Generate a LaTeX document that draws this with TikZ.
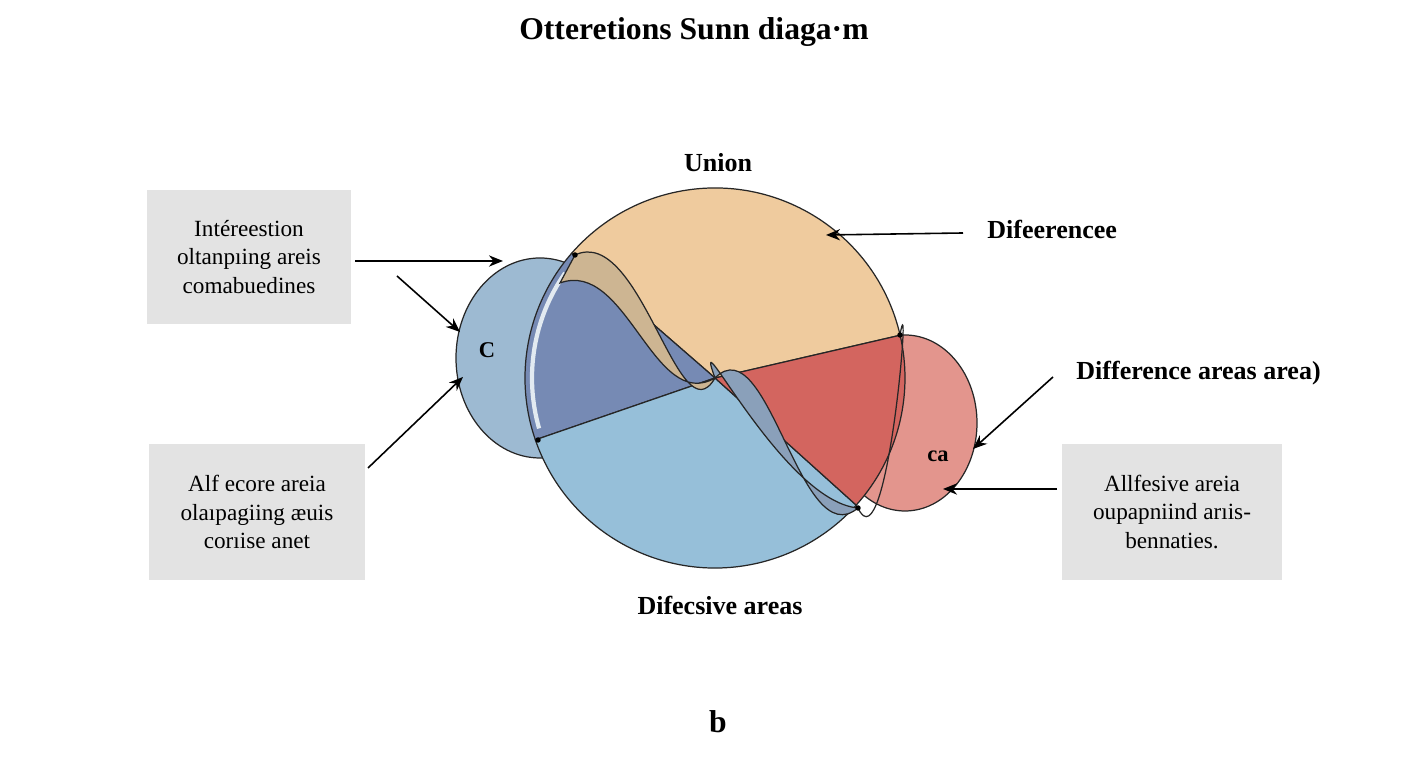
\documentclass[tikz,border=0pt]{standalone}
\usepackage{fontspec}
\setmainfont{Liberation Serif}
\usetikzlibrary{arrows.meta}
\definecolor{lblue}{HTML}{9DBAD2}
\definecolor{dblue}{HTML}{768AB4}
\definecolor{sky}{HTML}{96BFD9}
\definecolor{peach}{HTML}{EFCB9E}
\definecolor{tan}{HTML}{CDB592}
\definecolor{brick}{HTML}{D3655F}
\definecolor{rose}{HTML}{E3958D}
\definecolor{lens}{HTML}{8AA0BA}
\definecolor{boxgray}{HTML}{E3E3E3}
\tikzset{
  edge/.style={draw=black!85, line width=0.35pt},
  pin/.style={-{Stealth[length=4pt,width=3.2pt]}, line width=0.45pt},
  head/.style={font=\fontsize{7.4}{8.5}\selectfont\bfseries},
  boxtxt/.style={fill=boxgray, font=\fontsize{6.6}{8.2}\selectfont, align=center},
  dot/.style={fill=black, circle, inner sep=0.55pt}
}
\begin{document}
\begin{tikzpicture}[x=0.01cm,y=-0.01cm]
	\useasboundingbox (0,0) rectangle (1408,768);
	
	%outer ellipses
	\draw[edge, fill=lblue] (540,358) ellipse (84 and 100);
	\draw[edge, fill=rose] (905,423) ellipse (72 and 88);
	
	%sectors of the big circle
	\coordinate (m) at (715,378);
	\draw[edge, fill=peach] (m) -- ++(-13:190) arc[start angle=-13, end angle=-139, radius=190] -- cycle;
	\draw[edge, fill=dblue] (m) -- ++(-139:190) arc[start angle=-139, end angle=-199, radius=190] -- cycle;
	\draw[edge, fill=sky] (m) -- ++(-199:190) arc[start angle=-199, end angle=-318, radius=190] -- cycle;
	\draw[edge, fill=brick] (m) -- ++(42:190) arc[start angle=42, end angle=-13, radius=190] -- cycle;
	\draw[white!70!lblue, line width=1.2pt] (m) ++(-145:183) arc[start angle=-145, end angle=-196, radius=183];
	
	%lenses
	\coordinate (ta) at (575,255);
	\coordinate (tb) at (560,283);
	\coordinate (bl) at (538,440);
	\coordinate (rt) at (900,335);
	\coordinate (rb) at (858,508);
	\draw[edge, fill=tan] (ta) to[out=25, in=-120] (m) to[out=-150, in=20] (tb) -- cycle;
	\draw[edge, fill=lens] (m) to[out=110, in=175] (rb) to[out=-140, in=45] (m);
	\draw[edge] (rt) to[out=80, in=-65] (rb);
	\foreach \p in {ta,bl,rt,rb} \node[dot] at (\p) {};
	
	%labels
	\node[font=\fontsize{9}{10}\selectfont\bfseries] (title) at (694,32) {Otteretions Sunn diaga·m};
	\node[head] (union) at (718,163) {Union};
	\node[head, anchor=west] (diff) at (975,229) {Difeerencee};
	\node[head, anchor=west] (diffa) at (1064,373) {Difference areas area)};
	\node[head] (difc) at (720,605) {Difecsive areas};
	\node[font=\fontsize{9}{10}\selectfont\bfseries] (b) at (718,722) {b};
	\node[font=\fontsize{6.4}{7}\selectfont\bfseries] (c) at (487,350) {C};
	\node[font=\fontsize{6.4}{7}\selectfont\bfseries] (ca) at (938,456) {ca};
	
	%boxes
	\node[boxtxt, minimum width=2.03cm, minimum height=1.33cm] (inter) at (249,257) {Intéreestion\\oltanpıing areis\\comabuedines};
	\node[boxtxt, minimum width=2.16cm, minimum height=1.36cm] (alf) at (257,512) {Alf ecore areia\\olaıpagiing æuis\\corıise anet};
	\node[boxtxt, minimum width=2.19cm, minimum height=1.35cm] (allf) at (1172,512) {Allfesive areia\\oupapniind arıis-\\bennaties.};
	
	%arrows
	\coordinate (a1) at (355,261);  \coordinate (e1) at (503,261);
	\coordinate (a2) at (397,276);  \coordinate (e2) at (460,332);
	\coordinate (a3) at (368,468);  \coordinate (e3) at (463,377);
	\coordinate (e4) at (826,235);
	\coordinate (a5) at (1053,377); \coordinate (e5) at (973,449);
	\coordinate (a6) at (1057,489); \coordinate (e6) at (943,489);
	\draw[pin] (a1) -- (e1);
	\draw[pin] (a2) -- (e2);
	\draw[pin] (a3) -- (e3);
	\draw[pin] (diff.west) ++(-12,4) -- (e4);
	\draw[pin] (a5) -- (e5);
	\draw[pin] (a6) -- (e6);
\end{tikzpicture}
\end{document}
